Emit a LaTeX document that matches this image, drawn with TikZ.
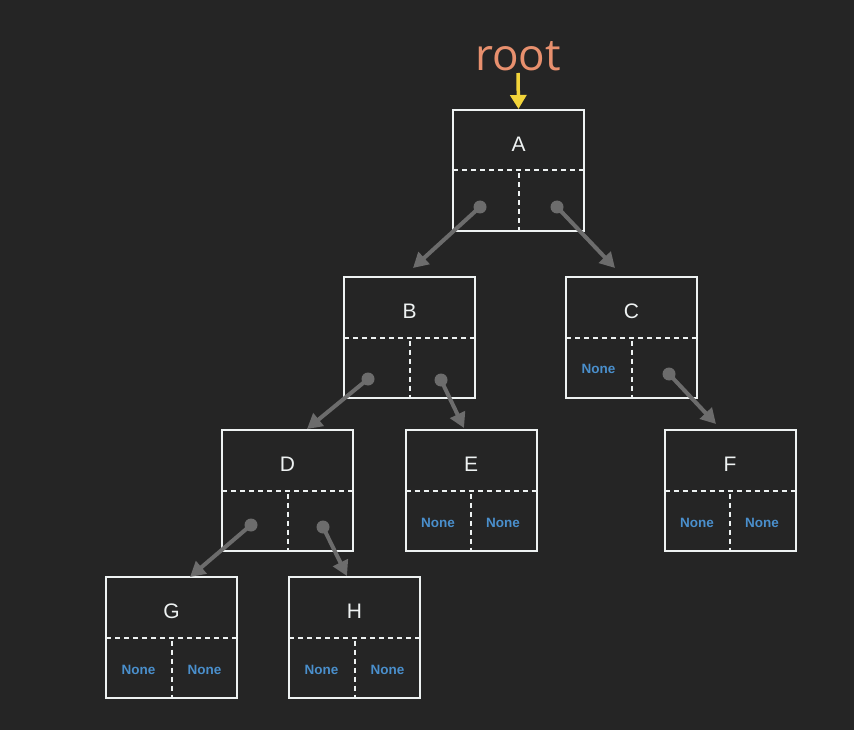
\documentclass[tikz,border=0pt]{standalone}
\usepackage{fontspec}
\setmainfont{Liberation Sans}
\newfontfamily\rootfont{Open Sans}
\usetikzlibrary{arrows.meta,calc}
\definecolor{bg}{HTML}{252525}
\definecolor{boxline}{HTML}{EEF2F2}
\definecolor{nonecol}{HTML}{4A8FCC}
\definecolor{rootcol}{HTML}{E8906E}
\definecolor{yel}{HTML}{F2D43A}
\definecolor{ptrgray}{HTML}{6C6C6C}
\tikzset{
  treebox/.style={draw=boxline, line width=2pt, minimum width=131pt, minimum height=121pt, inner sep=0pt, fill=bg},
  divider/.style={draw=boxline, line width=2pt, dash pattern=on 5pt off 4pt},
  keytext/.style={text=boxline, font=\fontsize{21}{25}\selectfont},
  nonetext/.style={text=nonecol, font=\fontsize{13.5}{16}\selectfont\bfseries},
  ptr/.style={draw=ptrgray, line width=4pt, -{Triangle[length=15pt,width=16pt]}},
  dotc/.style={fill=ptrgray}
}
\newcommand\treenode[3]{% name, position, label
  \node[treebox] (#1) at #2 {};
  \draw[divider] ($(#1.west)+(1,0)$) -- ($(#1.east)+(-1,0)$);
  \draw[divider] ($(#1.center)+(0,3)$) -- ($(#1.south)+(0,-1)$);
  \node[keytext] (#1lab) at ($(#1.north)+(0,35)$) {#3};
}
\begin{document}
\begin{tikzpicture}[x=1pt,y=-1pt]
\fill[bg] (0,0) rectangle (854,730);
\useasboundingbox (0,0) rectangle (854,730);

\node[text=rootcol, font=\rootfont\fontsize{44}{48}\selectfont, anchor=base] (root) at (518,71) {root};

\treenode{A}{(518.5,170.5)}{A}
\treenode{B}{(409.5,337.5)}{B}
\treenode{C}{(631.5,337.5)}{C}
\treenode{D}{(287.5,490.5)}{D}
\treenode{E}{(471,490.5)}{E}
\treenode{F}{(730,490.5)}{F}
\treenode{G}{(171.5,637.5)}{G}
\treenode{H}{(354.5,637.5)}{H}

\coordinate (rootarr) at ($(root.base)+(0,2)$);
\draw[draw=yel, line width=3.5pt, -{Triangle[length=14pt,width=16pt]}] (rootarr) -- (A.north);

% None labels
\node[nonetext] (Cn) at ($(C.center)+(-33,31)$) {None};
\node[nonetext] (Enl) at ($(E.center)+(-33,32)$) {None};
\node[nonetext] (Enr) at ($(E.center)+(32,32)$) {None};
\node[nonetext] (Fnl) at ($(F.center)+(-33,32)$) {None};
\node[nonetext] (Fnr) at ($(F.center)+(32,32)$) {None};
\node[nonetext] (Gnl) at ($(G.center)+(-33,32)$) {None};
\node[nonetext] (Gnr) at ($(G.center)+(33,32)$) {None};
\node[nonetext] (Hnl) at ($(H.center)+(-33,32)$) {None};
\node[nonetext] (Hnr) at ($(H.center)+(33,32)$) {None};

% pointer dots
\coordinate (Al) at (480,207);
\coordinate (Ar) at (557,207);
\coordinate (Bl) at (368,379);
\coordinate (Br) at (441,380);
\coordinate (Cr) at (669,374);
\coordinate (Dl) at (251,525);
\coordinate (Dr) at (323,527);
% pointer targets
\coordinate (Bt) at (413,268);
\coordinate (Ct) at (615,268);
\coordinate (Dt) at (307,429);
\coordinate (Et) at (464,428);
\coordinate (Ft) at (716,424);
\coordinate (Gt) at (190,577);
\coordinate (Ht) at (347,576);

\draw[ptr] (Al) -- (Bt);
\draw[ptr] (Ar) -- (Ct);
\draw[ptr] (Bl) -- (Dt);
\draw[ptr] (Br) -- (Et);
\draw[ptr] (Cr) -- (Ft);
\draw[ptr] (Dl) -- (Gt);
\draw[ptr] (Dr) -- (Ht);
\foreach \p in {Al,Ar,Bl,Br,Cr,Dl,Dr} \fill[dotc] (\p) circle (6.5pt);
\end{tikzpicture}
\end{document}
